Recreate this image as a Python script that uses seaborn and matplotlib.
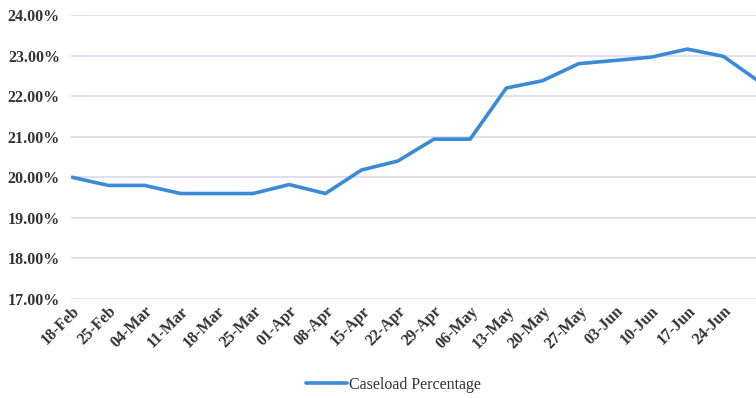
import pandas as pd
import matplotlib.pyplot as plt
import matplotlib.ticker as mtick
import seaborn as sns

# Weekly caseload percentage
weeks = ['18-Feb', '25-Feb', '04-Mar', '11-Mar', '18-Mar', '25-Mar', '01-Apr',
         '08-Apr', '15-Apr', '22-Apr', '29-Apr', '06-May', '13-May', '20-May',
         '27-May', '03-Jun', '10-Jun', '17-Jun', '24-Jun', '01-Jul']
caseload_pct = [20.00, 19.80, 19.80, 19.60, 19.60, 19.60, 19.82, 19.60, 20.18,
                20.40, 20.94, 20.94, 22.20, 22.38, 22.80, 22.88, 22.96, 23.16,
                22.98, 22.35]
y_ticks = [17, 18, 19, 20, 21, 22, 23, 24]

data = pd.DataFrame({'Week': range(len(weeks)), 'Caseload Percentage': caseload_pct})

sns.set_theme(style="white")
plt.rcParams['font.family'] = ['Liberation Serif', 'DejaVu Serif']

fig = plt.figure(figsize=(7.56, 3.98), dpi=100)
ax = fig.add_axes([71 / 756, 1 - 299 / 398, 1 - 71 / 756, (299 - 15) / 398])

line_color = '#3a8ad6'
sns.lineplot(data=data, x='Week', y='Caseload Percentage', ax=ax,
             color=line_color, linewidth=2.6, label='Caseload Percentage',
             legend=False)

ax.set_ylim(17, 24)
ax.set_yticks(y_ticks)
ax.yaxis.set_major_formatter(mtick.FuncFormatter(lambda v, _: f'{v:.2f}%'))
ax.set_xlim(-0.03, 18.9)
ax.set_xticks(range(len(weeks) - 1))
ax.set_xticklabels(weeks[:-1], rotation=45, ha='right', va='top',
                   rotation_mode='anchor')
ax.set_xlabel('')
ax.set_ylabel('')

ax.grid(axis='y', color='#d9d9ee', linewidth=1.2)
ax.grid(axis='x', visible=False)
for side in ['top', 'right', 'bottom', 'left']:
    ax.spines[side].set_visible(False)
ax.tick_params(axis='both', length=0, labelsize=11.5, labelcolor='#333333')
ax.tick_params(axis='y', pad=8)
ax.tick_params(axis='x', pad=3)
for lbl in ax.get_yticklabels() + ax.get_xticklabels():
    lbl.set_fontweight('bold')

handles, labels = ax.get_legend_handles_labels()
fig.legend(handles, labels, loc='center', bbox_to_anchor=(0.52, 1 - 385 / 398),
           frameon=False, fontsize=11.5, handlelength=2.6, handletextpad=0.1,
           labelcolor='#333333')

fig.savefig('out.png', dpi=100)
